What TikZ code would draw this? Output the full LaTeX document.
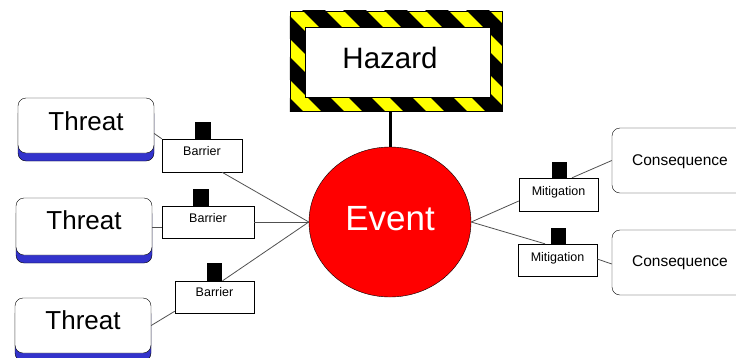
\documentclass[tikz,border=0pt]{standalone}
\usepackage{fontspec}
\setmainfont{Liberation Sans}
\usetikzlibrary{shapes.geometric,shadows,calc}
\definecolor{threatblue}{HTML}{3333CC}
\definecolor{linegray}{HTML}{505050}
\definecolor{hazyellow}{HTML}{FFFF00}
\newcommand{\bl}[2]{\raisebox{#1pt}[0pt][0pt]{#2}}
\tikzset{
  conn/.style={draw=linegray, line width=0.8pt},
  threatbox/.style={draw=black, fill=white, rounded corners=8pt, minimum width=136pt, inner sep=0pt,
    font=\fontsize{26}{28}\selectfont,
    drop shadow={shadow xshift=0pt, shadow yshift=-8pt, fill=threatblue, draw=black, opacity=1}},
  ctrlbox/.style={draw=black, fill=white, inner sep=0pt, minimum height=32pt, font=\fontsize{12.5}{14}\selectfont},
  tab/.style={fill=black, inner sep=0pt, minimum width=16pt, minimum height=17pt},
  consbox/.style={draw=black, fill=white, rounded corners=8pt, minimum width=136pt, minimum height=65pt, inner sep=0pt,
    font=\fontsize{15.5}{17}\selectfont},
}
\begin{document}
\begin{tikzpicture}[x=1pt,y=-1pt]
\useasboundingbox (0,0) rectangle (736,357);
% Hazard
\node[draw=black, fill=hazyellow, minimum width=212pt, minimum height=100pt, inner sep=0pt] (hzo) at (396,61) {};
\begin{scope}
  \clip (hzo.north west) rectangle (hzo.south east);
  \foreach \k in {-6,...,6} {
    \draw[black, line width=16pt] (314.5+41*\k-40, 11-40) -- (314.5+41*\k+140, 11+140);
  }
\end{scope}
\draw[black] (hzo.north west) rectangle (hzo.south east);
\node[draw=black, fill=white, minimum width=185pt, minimum height=70pt, inner sep=0pt] (hzi) at (397.5,62) {};
\node[font=\fontsize{29.5}{31}\selectfont, inner sep=0pt, anchor=base] (hzt) at (390,68.3) {Hazard};
% Event
\node[ellipse, draw=black, fill=red, minimum width=162pt, minimum height=150pt, inner sep=0pt,
  text=white, font=\fontsize{35}{37}\selectfont] (ev) at (390,222) {\bl{-8}{Event}};
\draw[black, line width=3pt] (ev.north |- hzo.south) -- (ev.north);
% Threats
\node[threatbox, minimum height=55pt] (t1) at (86,125.5) {\bl{-4.5}{Threat}};
\node[threatbox, minimum height=57pt] (t2) at (84,226.5) {\bl{-2.8}{Threat}};
\node[threatbox, minimum height=55pt] (t3) at (83,325.5) {\bl{-3.8}{Threat}};
% Barriers
\node[ctrlbox, minimum width=80pt, minimum height=33pt] (b1) at (202,155.5) {\bl{0.5}{Barrier}};
\node[tab] (b1t) at (203,130.5) {};
\node[ctrlbox, minimum width=92pt] (b2) at (208,222) {\bl{-0.7}{Barrier}};
\node[tab] (b2t) at (201,197.5) {};
\node[ctrlbox, minimum width=79pt] (b3) at (214.5,297) {\bl{0.3}{Barrier}};
\node[tab, minimum width=15pt, minimum height=18pt] (b3t) at (214.5,272) {};
% Mitigations
\node[ctrlbox, minimum width=79pt, minimum height=33pt] (m1) at (558.5,194.5) {\bl{-0.5}{Mitigation}};
\node[tab, minimum width=15pt] (m1t) at (559.5,170) {};
\node[ctrlbox, minimum width=79pt] (m2) at (557.5,260) {\bl{-1}{Mitigation}};
\node[tab, minimum width=15pt] (m2t) at (558.5,236) {};
% Consequences
\node[consbox] (c1) at (680,160.5) {\bl{-4.5}{Consequence}};
\node[consbox] (c2) at (680,262.5) {\bl{-4.2}{Consequence}};
% Connectors
\draw[conn] ($(t1.east)+(0,8)$) -- (b1.north west);
\draw[conn] ($(b1.south)+(20,0)$) -- (ev.west);
\draw[conn] ($(t2.east)+(0,0.5)$) -- ($(b2.west)+(0,5)$);
\draw[conn] (b2.east) -- (ev.west);
\draw[conn] ($(b3.north)+(8,0)$) -- (ev.west);
\draw[conn] (t3.east) -- ($(b3.south west)+(0,-2)$);
\draw[conn] (ev.east) -- ($(m1.west)+(0,6.5)$);
\draw[conn] ($(m1.north)+(13.5,0)$) -- (c1.west);
\draw[conn] (ev.east) -- ($(m2.north)+(-12.5,0)$);
\draw[conn] ($(m2.east)+(0,-1)$) -- ($(c2.west)+(0,1.5)$);
\end{tikzpicture}
\end{document}
